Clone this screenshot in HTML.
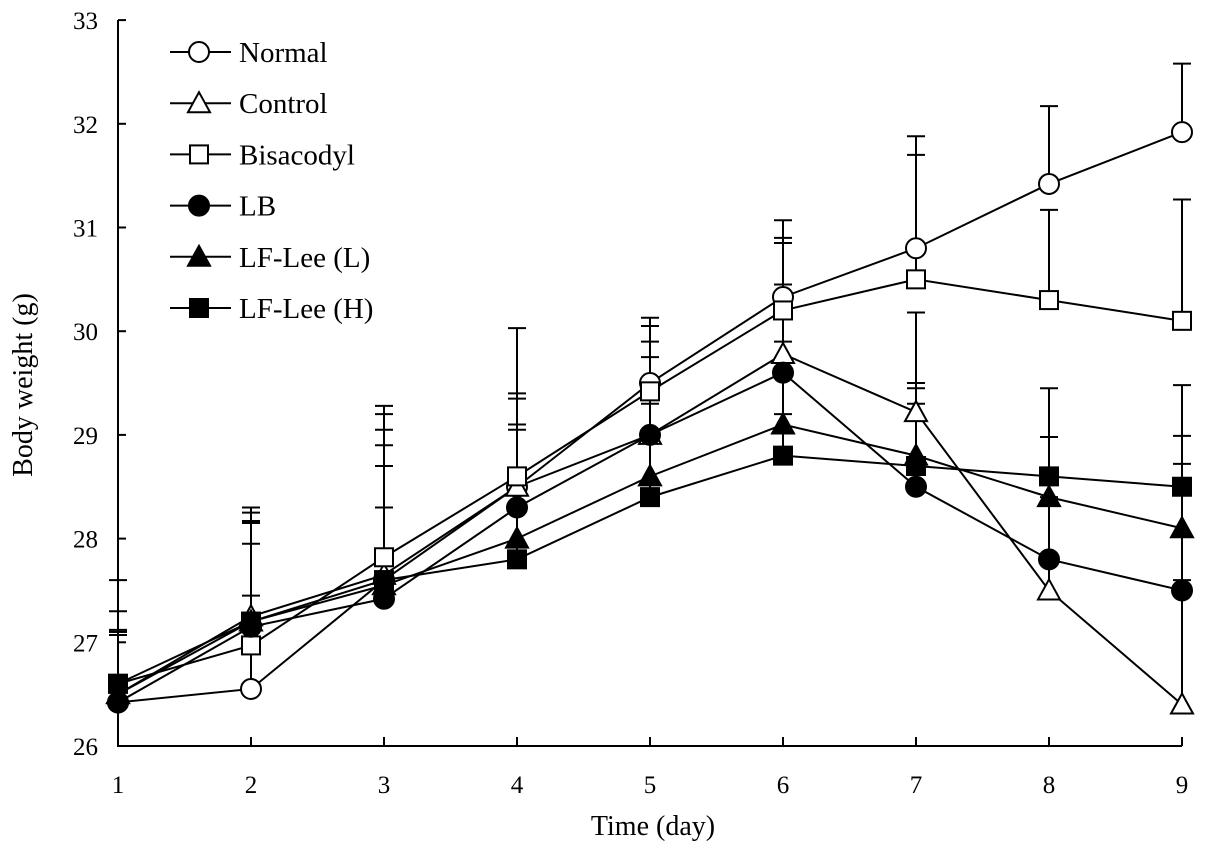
<!DOCTYPE html>
<html><head><meta charset="utf-8"><style>
body{margin:0;background:#fff}
svg text{font-family:"Liberation Serif",serif;fill:#000}
</style></head><body>
<svg id="chart" width="1205" height="855" xmlns="http://www.w3.org/2000/svg"></svg>
<script>
const days=[1,2,3,4,5,6,7,8,9];
const yTicks=[26,27,28,29,30,31,32,33];
const seriesNames=["Normal","Control","Bisacodyl","LB","LF-Lee (L)","LF-Lee (H)"];
const markers=["circle","triangle","square","circle","triangle","square"];
const fills=["#fff","#fff","#fff","#000","#000","#000"];
const normal=[26.42,26.55,27.6,28.5,29.5,30.33,30.8,31.42,31.92];
const control=[26.5,27.25,27.65,28.5,29.0,29.78,29.22,27.5,26.4];
const bisacodyl=[26.6,26.97,27.82,28.6,29.42,30.2,30.5,30.3,30.1];
const lb=[26.42,27.15,27.42,28.3,29.0,29.6,28.5,27.8,27.5];
const lfl=[26.5,27.2,27.55,28.0,28.6,29.1,28.8,28.4,28.1];
const lfh=[26.6,27.2,27.6,27.8,28.4,28.8,28.7,28.6,28.5];
const errNormal=[0.65,0.9,1.6,0.9,0.63,0.74,1.08,0.75,0.66];
const errControl=[0.6,1.05,1.63,1.53,1.05,1.07,0.96,0.3,1.2];
const errBisacodyl=[0.5,1.2,1.23,0.75,0.48,0.7,1.2,0.87,1.17];
const errLb=[0.7,1.1,1.48,0.8,0.75,0.85,1.0,0.6,1.22];
const errLfl=[0.8,0.75,1.15,1.05,0.9,0.8,0.65,1.05,1.38];
const errLfh=[1.0,0.95,0.7,0.5,0.9,0.4,0.6,0.38,0.49];
const values=[normal,control,bisacodyl,lb,lfl,lfh];
const errs=[errNormal,errControl,errBisacodyl,errLb,errLfl,errLfh];

const NS="http://www.w3.org/2000/svg";
const svg=document.getElementById('chart');
const X=d=>118+(d-1)*133;
const Y=v=>746-(v-26)*103.7;
function el(t,a,p){const e=document.createElementNS(NS,t);for(const k in a)e.setAttribute(k,a[k]);(p||svg).appendChild(e);return e;}
let ax=el('line',{x1:118,y1:20,x2:118,y2:747,stroke:'#000','stroke-width':2});


ax=el('line',{x1:117,y1:746,x2:1182,y2:746,stroke:'#000','stroke-width':2});


yTicks.forEach(v=>{
 el('line',{x1:118,y1:Y(v),x2:126,y2:Y(v),stroke:'#000','stroke-width':2});
 const t=el('text',{x:98,y:Y(v)+9,'text-anchor':'end','font-size':25});t.textContent=v;
 
 
});
days.forEach(d=>{
 el('line',{x1:X(d),y1:746,x2:X(d),y2:737,stroke:'#000','stroke-width':2});
 const t=el('text',{x:X(d),y:793,'text-anchor':'middle','font-size':25});t.textContent=d;
 
 
});
let t=el('text',{x:653,y:835,'text-anchor':'middle','font-size':28});t.textContent='Time (day)';


t=el('text',{x:0,y:0,'text-anchor':'middle','font-size':28,transform:'translate(32,385) rotate(-90)'});t.textContent='Body weight (g)';



function marker(kind,x,y,fill,g){
 const s=10;
 if(kind==='circle')return el('circle',{cx:x,cy:y,r:s,fill:fill,stroke:'#000','stroke-width':2},g);
 if(kind==='square')return el('rect',{x:x-s+1,y:y-s+1,width:2*s-2,height:2*s-2,fill:fill,stroke:'#000','stroke-width':2},g);
 return el('polygon',{points:`${x},${y-s-1} ${x+s+1},${y+s-1} ${x-s-1},${y+s-1}`,fill:fill,stroke:'#000','stroke-width':2},g);
}
values.forEach((vals,i)=>{
 const g=el('g',{});
 
 
 vals.forEach((v,j)=>{
  const top=Y(v+errs[i][j]);
  el('line',{x1:X(days[j]),y1:Y(v),x2:X(days[j]),y2:top,stroke:'#000','stroke-width':2},g);
  el('line',{x1:X(days[j])-9,y1:top,x2:X(days[j])+9,y2:top,stroke:'#000','stroke-width':2},g);
 });
});
values.forEach((vals,i)=>{
 const p=el('polyline',{points:vals.map((v,j)=>X(days[j])+','+Y(v)).join(' '),fill:'none',stroke:'#000','stroke-width':2});
 
 
});
values.forEach((vals,i)=>{
 const g=el('g',{});
 
 
 vals.forEach((v,j)=>marker(markers[i],X(days[j]),Y(v),fills[i],g));
});
seriesNames.forEach((n,i)=>{
 const y=52+i*51.2;
 const g=el('g',{});
 
 
 el('line',{x1:170,y1:y,x2:231,y2:y,stroke:'#000','stroke-width':2},g);
 marker(markers[i],199,y,fills[i],g);
 const tt=el('text',{x:239,y:y+10,'font-size':29},g);tt.textContent=n;
});
</script>
</body></html>
